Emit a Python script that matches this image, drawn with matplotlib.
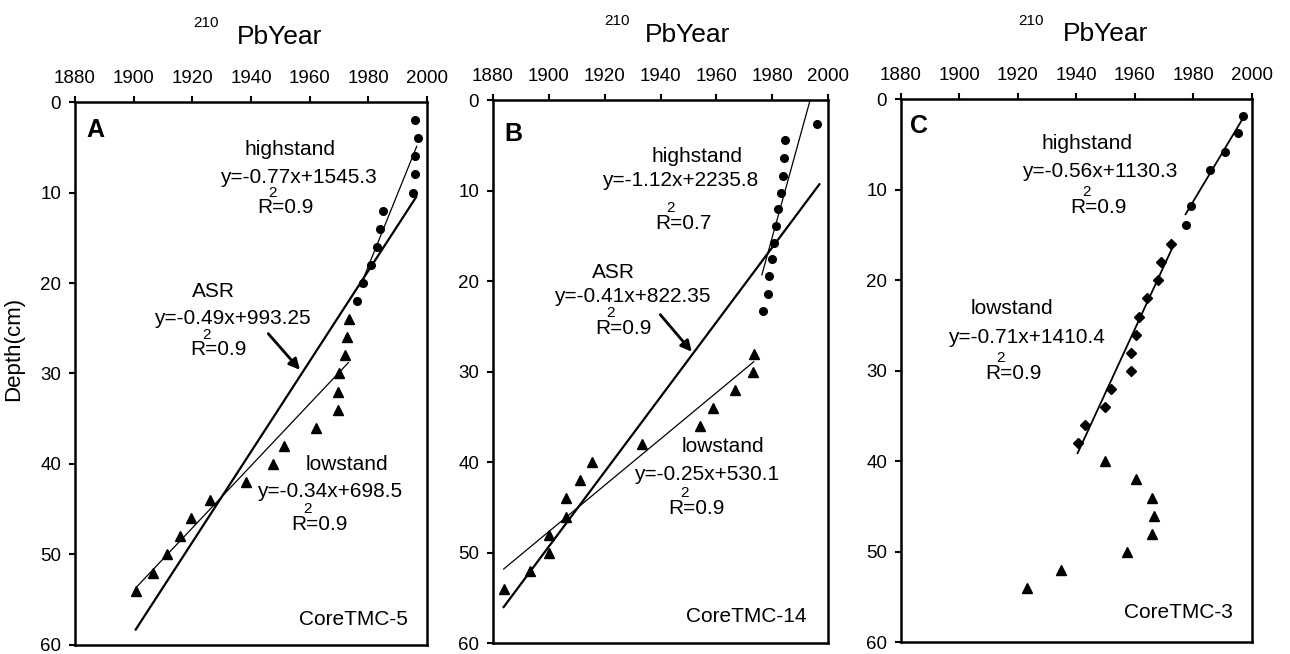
import matplotlib
matplotlib.use('Agg')
import matplotlib.pyplot as plt

plt.rcParams['font.family'] = ['Liberation Sans', 'DejaVu Sans']

year_ticks = [1880, 1900, 1920, 1940, 1960, 1980, 2000]
depth_ticks = [0, 10, 20, 30, 40, 50, 60]

# Core TMC-5 (A)
a_circ_year = [1995.9, 1996.8, 1995.9, 1996.0, 1995.1, 1984.9, 1984.0, 1982.8, 1980.9, 1978.1, 1976.0]
a_circ_depth = [2, 4, 6, 8, 10, 12, 14, 16, 18, 20, 22]
a_tri_year = [1973.5, 1972.8, 1972.0, 1970.1, 1969.7, 1969.7, 1962.2, 1951.4, 1947.6, 1938.2,
              1926.0, 1919.4, 1915.8, 1911.3, 1906.5, 1900.7]
a_tri_depth = [24, 26, 28, 30, 32, 34, 36, 38, 40, 42, 44, 46, 48, 50, 52, 54]
a_high_fit = ([1996.5, 1977.2], [4.9, 20.4])
a_asr_fit = ([1996.3, 1900.7], [10.5, 58.3])
a_low_fit = ([1900.7, 1973.2], [53.7, 28.8])

# Core TMC-14 (B)
b_circ_year = [1996.0, 1984.5, 1984.2, 1983.8, 1983.0, 1982.0, 1981.4, 1980.6, 1980.0, 1979.0, 1978.5, 1976.7]
b_circ_depth = [2.6, 4.4, 6.4, 8.4, 10.3, 12, 13.9, 15.8, 17.6, 19.4, 21.4, 23.3]
b_tri_year = [1973.6, 1973.0, 1966.5, 1958.8, 1954.0, 1933.3, 1915.4, 1911.0, 1906.2, 1906.1,
              1900.1, 1899.9, 1893.3, 1884.0]
b_tri_depth = [28, 30, 32, 34, 36, 38, 40, 42, 44, 46, 48, 50, 52, 54]
b_high_fit = ([1993.4, 1976.3], [0.2, 19.3])
b_asr_fit = ([1996.9, 1883.8], [9.3, 56.0])
b_low_fit = ([1883.8, 1973.4], [51.8, 28.9])

# Core TMC-3 (C)
c_circ_year = [1996.9, 1995.4, 1990.8, 1985.7, 1979.2, 1977.5]
c_circ_depth = [1.8, 3.7, 5.8, 7.8, 11.8, 13.9]
c_dia_year = [1972.3, 1968.9, 1968.0, 1964.1, 1961.5, 1960.3, 1958.6, 1958.6, 1951.7, 1949.8, 1942.9, 1940.6]
c_dia_depth = [16, 18, 20, 22, 24, 26, 28, 30, 32, 34, 36, 38]
c_tri_year = [1949.8, 1960.3, 1965.7, 1966.6, 1965.7, 1957.2, 1934.6, 1923.2]
c_tri_depth = [40, 42, 44, 46, 48, 50, 52, 54]
c_high_fit = ([1996.9, 1977.3], [2.1, 12.7])
c_low_fit = ([1972.5, 1940.4], [16.6, 39.1])

FS = 15

fig = plt.figure(figsize=(12.9, 6.54), dpi=100)
boxes = [[0.0581, 0.0138, 0.2729, 0.8302],
         [0.3822, 0.0164, 0.2597, 0.8306],
         [0.6984, 0.0179, 0.2721, 0.8302]]
axes = [fig.add_axes(b) for b in boxes]

for ax in axes:
    ax.set_xlim(1880, 2000)
    ax.set_ylim(60, 0)
    ax.xaxis.tick_top()
    ax.set_xticks(year_ticks)
    ax.set_yticks(depth_ticks)
    ax.tick_params(axis='x', direction='out', length=4, width=1.5, labelsize=13.5, pad=7)
    ax.tick_params(axis='y', direction='out', length=4, width=1.5, labelsize=13.5, pad=6)
    for s in ax.spines.values():
        s.set_linewidth(1.8)
    ax.text(0.582, 1.12, 'PbYear', transform=ax.transAxes, ha='center', va='center', fontsize=19)
    ax.text(0.371, 1.145, '210', transform=ax.transAxes, ha='center', va='center', fontsize=11)


def r2(ax, x, y, val):
    ax.text(x, y, 'R=' + val, ha='center', va='center', fontsize=FS)
    ax.annotate('2', xy=(x, y), xytext=(-9, 11), textcoords='offset points',
                ha='center', va='center', fontsize=11)


def arrow(ax, tail, head):
    ax.annotate('', xy=head, xytext=tail,
                arrowprops=dict(arrowstyle='-|>', lw=2, color='k', mutation_scale=16,
                                shrinkA=0, shrinkB=0))


circ = dict(marker='o', ms=5.5, color='k', ls='none')
tri = dict(marker='^', ms=7, color='k', ls='none')
dia = dict(marker='D', ms=5.5, color='k', ls='none')

# A
ax = axes[0]
ax.plot(a_circ_year, a_circ_depth, **circ)
ax.plot(a_tri_year, a_tri_depth, **tri)
ax.plot(*a_high_fit, color='k', lw=0.9)
ax.plot(*a_asr_fit, color='k', lw=1.6)
ax.plot(*a_low_fit, color='k', lw=0.9)
ax.text(1887, 3.1, 'A', fontsize=18, fontweight='bold', ha='center', va='center')
ax.text(1953.3, 5.3, 'highstand', ha='center', va='center', fontsize=FS)
ax.text(1956.1, 8.3, 'y=-0.77x+1545.3', ha='center', va='center', fontsize=FS)
r2(ax, 1951.6, 11.7, '0.9')
ax.text(1927.2, 20.9, 'ASR', ha='center', va='center', fontsize=FS)
ax.text(1933.7, 23.9, 'y=-0.49x+993.25', ha='center', va='center', fontsize=FS)
r2(ax, 1929.0, 27.4, '0.9')
arrow(ax, (1945.9, 25.6), (1956.7, 29.6))
ax.text(1972.6, 40.1, 'lowstand', ha='center', va='center', fontsize=FS)
ax.text(1966.7, 43.0, 'y=-0.34x+698.5', ha='center', va='center', fontsize=FS)
r2(ax, 1963.5, 46.7, '0.9')
ax.text(1993.6, 57.2, 'CoreTMC-5', ha='right', va='center', fontsize=FS)
ax.set_ylabel('Depth(cm)', fontsize=16)
ax.yaxis.set_label_coords(-0.143, 0.545)

# B
ax = axes[1]
ax.plot(b_circ_year, b_circ_depth, **circ)
ax.plot(b_tri_year, b_tri_depth, **tri)
ax.plot(*b_high_fit, color='k', lw=0.9)
ax.plot(*b_asr_fit, color='k', lw=1.6)
ax.plot(*b_low_fit, color='k', lw=0.9)
ax.text(1887.3, 3.7, 'B', fontsize=18, fontweight='bold', ha='center', va='center')
ax.text(1953.0, 6.2, 'highstand', ha='center', va='center', fontsize=FS)
ax.text(1947.0, 8.9, 'y=-1.12x+2235.8', ha='center', va='center', fontsize=FS)
r2(ax, 1948.2, 13.6, '0.7')
ax.text(1923.1, 19.1, 'ASR', ha='center', va='center', fontsize=FS)
ax.text(1929.7, 21.7, 'y=-0.41x+822.35', ha='center', va='center', fontsize=FS)
r2(ax, 1926.7, 25.2, '0.9')
arrow(ax, (1939.9, 23.7), (1951.2, 27.8))
ax.text(1962.3, 38.3, 'lowstand', ha='center', va='center', fontsize=FS)
ax.text(1956.6, 41.4, 'y=-0.25x+530.1', ha='center', va='center', fontsize=FS)
r2(ax, 1953.0, 45.1, '0.9')
ax.text(1992.2, 57.0, 'CoreTMC-14', ha='right', va='center', fontsize=FS)

# C
ax = axes[2]
ax.plot(c_circ_year, c_circ_depth, **circ)
ax.plot(c_dia_year, c_dia_depth, **dia)
ax.plot(c_tri_year, c_tri_depth, **tri)
ax.plot(*c_high_fit, color='k', lw=1.3)
ax.plot(*c_low_fit, color='k', lw=1.3)
ax.text(1886.3, 3.0, 'C', fontsize=18, fontweight='bold', ha='center', va='center')
ax.text(1943.6, 4.9, 'highstand', ha='center', va='center', fontsize=FS)
ax.text(1947.9, 8.0, 'y=-0.56x+1130.3', ha='center', va='center', fontsize=FS)
r2(ax, 1947.6, 11.9, '0.9')
ax.text(1917.9, 23.1, 'lowstand', ha='center', va='center', fontsize=FS)
ax.text(1922.9, 26.3, 'y=-0.71x+1410.4', ha='center', va='center', fontsize=FS)
r2(ax, 1918.4, 30.3, '0.9')
ax.text(1993.6, 56.7, 'CoreTMC-3', ha='right', va='center', fontsize=FS)

fig.savefig('out.png', dpi=100)
